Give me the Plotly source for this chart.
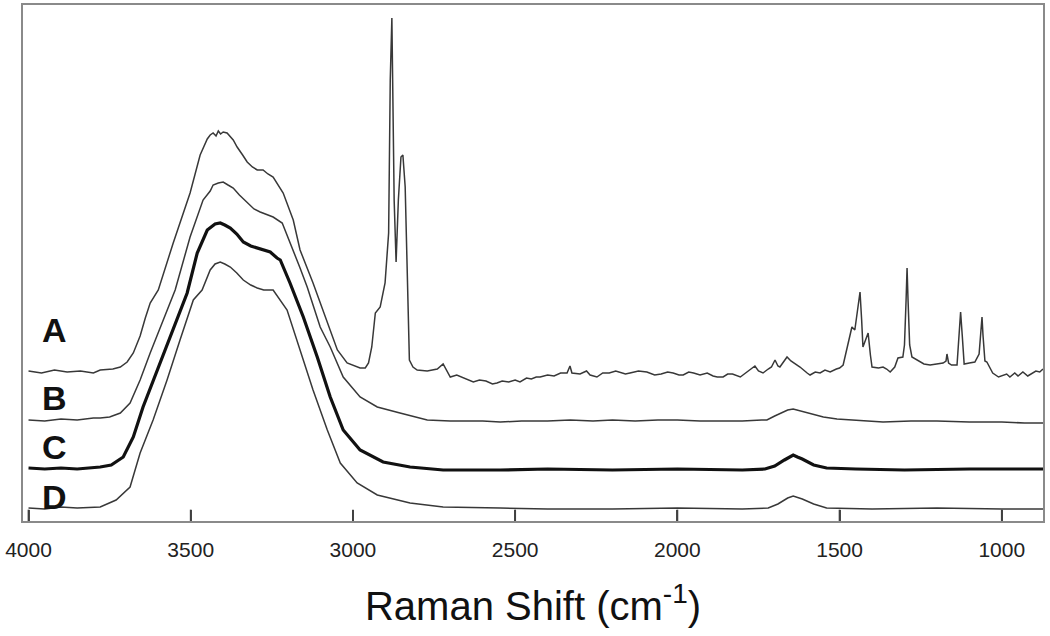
import plotly.graph_objects as go

# Raman shift (cm-1) and intensity (a.u., offset stacked) for each spectrum
wn_A = [4000, 3960, 3920, 3881, 3840, 3800, 3779, 3740, 3717, 3696, 3677, 3656, 3640, 3625,
        3600, 3554, 3502, 3471, 3449, 3440, 3431, 3422, 3415, 3408, 3400, 3388, 3369, 3357,
        3340, 3326, 3310, 3295, 3277, 3262, 3246, 3230, 3215, 3184, 3163, 3123, 3079, 3048,
        3018, 2978, 2962, 2952, 2942, 2931, 2916, 2901, 2890, 2885, 2880, 2876, 2873, 2867,
        2860, 2852, 2846, 2839, 2832, 2826, 2815, 2802, 2771, 2740, 2722, 2710, 2700, 2680,
        2660, 2640, 2629, 2610, 2590, 2570, 2556, 2540, 2520, 2500, 2485, 2465, 2450, 2435,
        2423, 2400, 2380, 2360, 2340, 2331, 2325, 2300, 2280, 2269, 2248, 2230, 2210, 2190,
        2177, 2160, 2146, 2120, 2094, 2070, 2050, 2030, 2013, 1995, 1982, 1965, 1950, 1930,
        1908, 1890, 1877, 1859, 1845, 1830, 1806, 1790, 1775, 1761, 1750, 1736, 1720, 1710,
        1699, 1690, 1684, 1662, 1650, 1640, 1622, 1600, 1591, 1575, 1560, 1545, 1529, 1510,
        1500, 1489, 1475, 1462, 1453, 1445, 1437, 1432, 1428, 1420, 1412, 1405, 1400, 1380,
        1366, 1355, 1344, 1330, 1320, 1305, 1300, 1295, 1292, 1289, 1284, 1277, 1261, 1240,
        1221, 1200, 1181, 1172, 1169, 1164, 1155, 1138, 1132, 1127, 1122, 1116, 1100, 1083,
        1070, 1064, 1061, 1058, 1052, 1046, 1028, 1010, 1000, 985, 975, 960, 950, 935, 920,
        910, 895, 883, 873]
int_A = [150, 148, 151, 149, 150, 148, 151, 152, 154, 159, 168, 185, 203, 218,
         231, 278, 328, 366, 382, 386, 388, 385, 390, 387, 389, 388, 381, 374,
         366, 359, 354, 351, 351, 347, 344, 336, 328, 301, 271, 238, 198, 171,
         158, 153, 153, 158, 174, 208, 214, 238, 288, 441, 503, 421, 321, 259,
         321, 364, 366, 334, 221, 161, 154, 151, 150, 152, 157, 149, 144, 146,
         143, 140, 139, 141, 140, 137, 138, 140, 139, 141, 139, 143, 142, 144,
         144, 146, 145, 148, 148, 155, 148, 147, 150, 146, 144, 148, 148, 150,
         149, 147, 148, 150, 149, 146, 147, 149, 148, 146, 146, 149, 148, 146,
         148, 145, 144, 144, 147, 147, 144, 148, 151, 155, 150, 148, 152, 154,
         161, 155, 154, 164, 160, 158, 154, 148, 146, 149, 148, 151, 149, 152,
         153, 156, 176, 194, 191, 211, 229, 201, 174, 181, 188, 166, 154, 153,
         154, 152, 149, 154, 163, 164, 176, 221, 253, 221, 176, 164, 161, 157,
         156, 157, 158, 160, 167, 158, 156, 156, 190, 209, 186, 157, 158, 159,
         167, 193, 204, 186, 160, 159, 148, 144, 145, 147, 144, 148, 145, 149,
         145, 147, 150, 149, 152]

wn_B = [4000, 3950, 3900, 3850, 3800, 3779, 3750, 3717, 3687, 3656, 3625, 3585, 3548,
        3502, 3462, 3440, 3431, 3415, 3400, 3385, 3369, 3350, 3326, 3305, 3286, 3265,
        3246, 3218, 3190, 3163, 3141, 3101, 3070, 3030, 2978, 2925, 2855, 2771, 2700,
        2600, 2546, 2480, 2400, 2330, 2260, 2200, 2130, 2060, 2000, 1930, 1860, 1800,
        1740, 1724, 1700, 1675, 1660, 1643, 1620, 1591, 1550, 1508, 1450, 1366, 1280,
        1200, 1100, 1000, 930, 873]
int_B = [101, 100, 102, 101, 103, 103, 104, 108, 118, 141, 168, 201, 231,
         284, 321, 330, 336, 338, 339, 336, 333, 326, 318, 312, 309, 306,
         304, 298, 276, 253, 234, 194, 174, 144, 124, 114, 108, 101, 100,
         100, 99, 100, 100, 101, 100, 101, 100, 101, 101, 100, 100, 100,
         101, 101, 105, 109, 111, 112, 110, 108, 104, 102, 101, 99, 100,
         100, 99, 99, 98, 98]

wn_C = [4000, 3950, 3900, 3850, 3779, 3745, 3708, 3677, 3647, 3603, 3554, 3511, 3480,
        3449, 3425, 3409, 3395, 3378, 3358, 3338, 3315, 3295, 3275, 3255, 3234, 3224,
        3194, 3153, 3110, 3070, 3030, 2978, 2907, 2824, 2722, 2546, 2400, 2200, 2000,
        1800, 1730, 1700, 1670, 1655, 1643, 1630, 1615, 1580, 1540, 1450, 1300, 1100,
        1000, 873]
int_C = [53, 52, 53, 52, 54, 56, 64, 84, 114, 151, 194, 228, 268,
         291, 297, 298, 296, 293, 287, 279, 275, 273, 271, 269, 263, 261,
         238, 204, 164, 124, 91, 71, 59, 54, 51, 51, 52, 51, 52,
         51, 52, 55, 61, 64, 66, 64, 62, 56, 53, 52, 51, 52,
         52, 52]

wn_D = [4000, 3950, 3900, 3850, 3779, 3730, 3687, 3656, 3616, 3573, 3533, 3492, 3465,
        3440, 3425, 3409, 3395, 3378, 3358, 3338, 3315, 3295, 3275, 3246, 3203, 3163,
        3123, 3079, 3039, 2987, 2925, 2824, 2722, 2546, 2400, 2200, 2000, 1800, 1720,
        1690, 1660, 1643, 1615, 1580, 1540, 1400, 1200, 1000, 873]
int_D = [13, 12, 14, 13, 14, 21, 34, 68, 101, 141, 181, 221, 231,
         251, 257, 259, 257, 254, 248, 241, 236, 233, 231, 231, 211, 171,
         131, 91, 58, 38, 26, 18, 14, 13, 12, 12, 13, 12, 13,
         17, 23, 25, 22, 17, 13, 12, 13, 12, 12]

labels = ["A", "B", "C", "D"]
label_y = [191, 123, 74, 24]
label_x = 3921

tick_vals = [4000, 3500, 3000, 2500, 2000, 1500, 1000]
tick_text = ["4000", "3500", "3000", "2500", "2000", "1500", "1000"]
x_range = [4017, 873]

fig = go.Figure()
thin = dict(color="#383838", width=1.5)
fig.add_trace(go.Scatter(x=wn_A, y=int_A, mode="lines", line=thin, name="A"))
fig.add_trace(go.Scatter(x=wn_B, y=int_B, mode="lines", line=thin, name="B"))
fig.add_trace(go.Scatter(x=wn_C, y=int_C, mode="lines", line=dict(color="#111111", width=3.2), name="C"))
fig.add_trace(go.Scatter(x=wn_D, y=int_D, mode="lines", line=thin, name="D"))

for lab, ly in zip(labels, label_y):
    fig.add_annotation(x=label_x, y=ly, text="<b>%s</b>" % lab, showarrow=False,
                       font=dict(family="Liberation Sans, Arial", size=34, color="#111111"),
                       xanchor="center", yanchor="middle")

# upward tick marks on the bottom axis, placed at the tick values
for tv in tick_vals:
    fig.add_shape(type="line", xref="x", yref="y domain", x0=tv, x1=tv, y0=0, y1=0.022,
                  line=dict(color="#404040", width=1.8), layer="above")

fig.update_layout(
    width=1050, height=636,
    margin=dict(l=23, r=7, t=5, b=115, autoexpand=False),
    paper_bgcolor="white", plot_bgcolor="white",
    showlegend=False,
    xaxis=dict(range=x_range, tickvals=tick_vals, ticktext=tick_text, automargin=False,
               ticks="inside", ticklen=11, tickwidth=1.5, tickcolor="#505050",
               ticklabelstandoff=9,
               showline=True, mirror=True, linecolor="#8a8a8a", linewidth=2,
               showgrid=False, zeroline=False,
               tickfont=dict(family="Liberation Sans, Arial", size=21, color="#222222"),
               title=dict(text="Raman Shift (cm<sup>-1</sup>)", standoff=32,
                          font=dict(family="Liberation Sans, Arial", size=40, color="#111111"))),
    yaxis=dict(range=[0, 516], showticklabels=False, ticks="", showgrid=False, automargin=False,
               zeroline=False, showline=True, mirror=True, linecolor="#8a8a8a", linewidth=2),
)

fig.write_html("out.html", config={"displayModeBar": False},
               post_script="document.body.style.margin='0';")
